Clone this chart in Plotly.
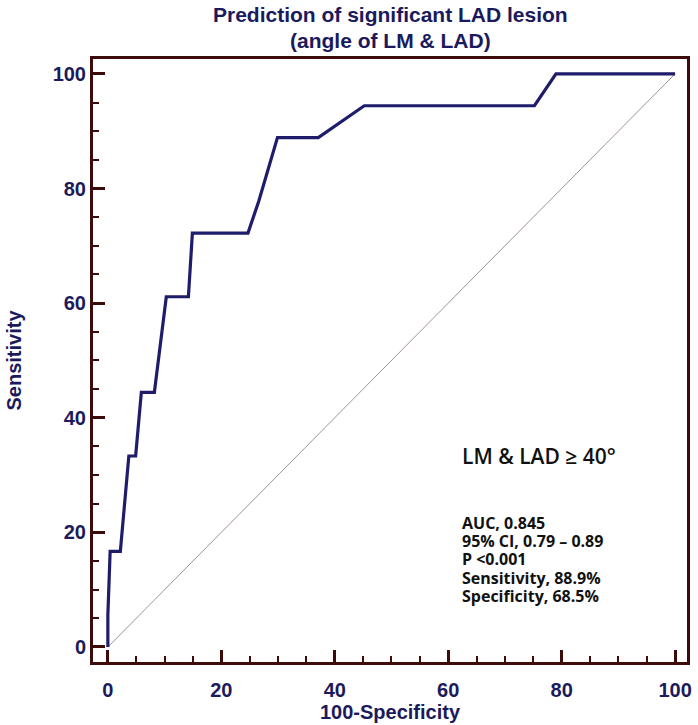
import plotly.graph_objects as go

# ROC curve points (100-Specificity, Sensitivity)
fpr = [0, 0, 0.4, 2.2, 3.7, 4.9, 5.9, 8.2, 10.3, 14.2, 14.9, 24.7, 26.6, 29.9, 37.1, 45.2, 75.2, 79.0, 100]
sens = [0, 5.56, 16.67, 16.67, 33.33, 33.33, 44.44, 44.44, 61.11, 61.11, 72.22, 72.22, 77.78, 88.89, 88.89, 94.44, 94.44, 100, 100]
ref_x = [0, 100]
ref_y = [0, 100]
tick_vals = [0, 20, 40, 60, 80, 100]
tick_text = ["0", "20", "40", "60", "80", "100"]
stats_lines = ["AUC, 0.845", "95% CI, 0.79 \u2013 0.89", "P <0.001", "Sensitivity, 88.9%", "Specificity, 68.5%"]
cutoff_label = "LM & LAD \u2265 40\u00b0"
title_lines = ["Prediction of significant LAD lesion", "(angle of LM & LAD)"]

NAVY = "#1b1a5c"
FRAME = "#3e0b0b"
CURVE = "#1f1d6b"

fig = go.Figure()
fig.add_trace(go.Scatter(x=ref_x, y=ref_y, mode="lines",
                         line=dict(color="#a39390", width=1), hoverinfo="skip", showlegend=False))
fig.add_trace(go.Scatter(x=fpr, y=sens, mode="lines",
                         line=dict(color=CURVE, width=3.2), showlegend=False))

axis_common = dict(
    showline=True, linecolor=FRAME, linewidth=3, mirror=True,
    ticks="inside", ticklen=12, tickwidth=3, tickcolor=FRAME,
    tickvals=tick_vals, ticktext=tick_text,
    minor=dict(dtick=5, tick0=0, ticks="inside", ticklen=6, tickwidth=2, tickcolor=FRAME),
    showgrid=False, zeroline=False,
    tickfont=dict(family="Liberation Sans", size=20, color=NAVY, weight="bold"),
)

fig.update_xaxes(range=[-2.62, 102.1], **axis_common,
                 ticklabelstandoff=8,
                 title=dict(text="100-Specificity", standoff=4,
                            font=dict(family="Liberation Sans", size=20, color=NAVY, weight="bold")))
fig.update_yaxes(range=[-2.62, 102.6], **axis_common,
                 title=dict(text="Sensitivity", standoff=26,
                            font=dict(family="Liberation Sans", size=20, color=NAVY, weight="bold")))

fig.add_annotation(x=62.1, y=33.4, xref="x", yref="y", text=cutoff_label, showarrow=False,
                   xanchor="left", yanchor="middle",
                   font=dict(family="Open Sans", size=21, color="#111111", weight=600))
for i, line in enumerate(stats_lines):
    fig.add_annotation(x=62.1, y=21.7 - i * 3.2, xref="x", yref="y", text=line, showarrow=False,
                       xanchor="left", yanchor="middle",
                       font=dict(family="Open Sans", size=16, color="#111111", weight="bold"))

for i, line in enumerate(title_lines):
    fig.add_annotation(x=0.5, y=1, xref="paper", yref="paper", text=line, showarrow=False,
                       xanchor="center", yanchor="middle", yshift=45 - i * 26,
                       font=dict(family="Liberation Sans", size=21, color=NAVY, weight="bold"))

fig.update_layout(
    width=698, height=725,
    margin=dict(l=93, r=6, t=59, b=62),
    paper_bgcolor="white", plot_bgcolor="white",
)

fig.write_html("out.html", config={"displayModeBar": False},
               post_script="document.body.style.margin='0';document.body.style.padding='0';")
